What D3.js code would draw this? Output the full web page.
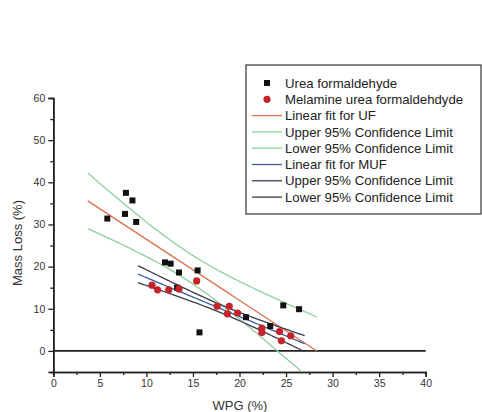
<!DOCTYPE html>
<html>
<head>
<meta charset="utf-8">
<script src="https://cdn.jsdelivr.net/npm/d3@7"></script>
<style>
    body { margin: 0; background: #fff; }
    svg { font-family: "Liberation Sans", Arial, sans-serif; }
</style>
</head>
<body>
<svg id="chart" width="482" height="412"></svg>
<script>
// Urea formaldehyde (UF) samples
var ufWpg = [7.8, 8.5, 7.7, 5.8, 8.9, 12.0, 12.6, 13.5, 15.5, 13.3, 15.7, 20.7, 23.3, 24.7, 26.4];
var ufLoss = [37.5, 35.7, 32.5, 31.4, 30.6, 21.0, 20.7, 18.6, 19.1, 15.0, 4.4, 8.0, 5.9, 10.8, 9.9];

// Melamine urea formaldehyde (MUF) samples
var mufWpg = [10.6, 11.2, 12.4, 13.5, 15.4, 17.6, 18.9, 18.7, 19.8, 22.4, 22.4, 24.3, 25.5, 24.5];
var mufLoss = [15.6, 14.5, 14.5, 14.7, 16.6, 10.6, 10.6, 8.8, 9.0, 5.4, 4.4, 4.6, 3.6, 2.4];

// x extent over which each fit is drawn
var ufFitRange = [3.7, 28.3];
var mufFitRange = [9.1, 27.0];

var xTicks = [0, 5, 10, 15, 20, 25, 30, 35, 40];
var yTicks = [0, 10, 20, 30, 40, 50, 60];

var legendLabels = [
    "Urea formaldehyde",
    "Melamine urea formaldehdyde",
    "Linear fit for UF",
    "Upper 95% Confidence Limit",
    "Lower 95% Confidence Limit",
    "Linear fit for MUF",
    "Upper 95% Confidence Limit",
    "Lower 95% Confidence Limit"
];

var COLORS = {
    ufFit: "#d9714f",
    ufCi: "#8fcf9f",
    mufFit: "#3a5da0",
    mufCi: "#3c3c4c",
    square: "#111",
    dot: "#c4242a",
    axis: "#222"
};

// Student t, two sided 95%, by degrees of freedom
var T975 = {12: 2.179, 13: 2.160};

// least squares fit with confidence band for the mean
function linearFit(xs, ys) {
    var n = xs.length;
    var mx = d3.mean(xs), my = d3.mean(ys);
    var sxx = d3.sum(xs, function (x) { return (x - mx) * (x - mx); });
    var sxy = d3.sum(xs, function (x, i) { return (x - mx) * (ys[i] - my); });
    var b = sxy / sxx;
    var a = my - b * mx;
    var sse = d3.sum(xs, function (x, i) {
        var r = ys[i] - (a + b * x);
        return r * r;
    });
    var s = Math.sqrt(sse / (n - 2));
    var t = T975[n - 2] || 2.2;
    return {
        y: function (x) { return a + b * x; },
        half: function (x) {
            return t * s * Math.sqrt(1 / n + (x - mx) * (x - mx) / sxx);
        }
    };
}

var svg = d3.select("#chart");

var x = d3.scaleLinear().domain([0, 40]).range([53.3, 425.7]);
var y = d3.scaleLinear().domain([-5, 60]).range([372, 98]);

svg.append("defs").append("clipPath").attr("id", "plot")
    .append("rect")
    .attr("x", x(0)).attr("y", y(60))
    .attr("width", x(40) - x(0)).attr("height", y(-5) - y(60));

// axes: majors labelled, minors halfway between
var xAxis = d3.axisBottom(x).tickValues(xTicks).tickSize(5).tickPadding(3);
var xMinor = d3.axisBottom(x).tickValues(d3.range(2.5, 40, 5)).tickSize(3).tickFormat("");
var yAxis = d3.axisLeft(y).tickValues(yTicks).tickSize(5).tickPadding(3);
var yMinor = d3.axisLeft(y).tickValues(d3.range(-5, 60, 10)).tickSize(3).tickFormat("");

function styleAxis(g) {
    g.select(".domain").attr("stroke", COLORS.axis).attr("stroke-width", 1.6);
    g.selectAll(".tick line").attr("stroke", COLORS.axis).attr("stroke-width", 1.3);
    g.selectAll(".tick text").attr("fill", "#333").style("font-size", "10.5px");
}

svg.append("g").attr("transform", "translate(0," + y(-5) + ")").call(xMinor).call(styleAxis);
svg.append("g").attr("transform", "translate(0," + y(-5) + ")").call(xAxis).call(styleAxis);
svg.append("g").attr("transform", "translate(" + x(0) + ",0)").call(yMinor).call(styleAxis);
svg.append("g").attr("transform", "translate(" + x(0) + ",0)").call(yAxis).call(styleAxis);

// zero line
svg.append("line")
    .attr("x1", x(0)).attr("x2", x(40))
    .attr("y1", y(0)).attr("y2", y(0))
    .attr("stroke", COLORS.axis).attr("stroke-width", 1.6);

// axis titles
svg.append("text")
    .attr("x", 240).attr("y", 410)
    .attr("text-anchor", "middle")
    .attr("fill", "#333").style("font-size", "13px")
    .text("WPG (%)");
svg.append("text")
    .attr("transform", "translate(22,243) rotate(-90)")
    .attr("text-anchor", "middle")
    .attr("fill", "#333").style("font-size", "13px")
    .text("Mass Loss (%)");

var plot = svg.append("g").attr("clip-path", "url(#plot)");

function drawFit(xs, ys, range, fitColor, ciColor) {
    var fit = linearFit(xs, ys);
    var samples = d3.range(0, 61).map(function (i) {
        return range[0] + (range[1] - range[0]) * i / 60;
    });
    var line = function (f) {
        return d3.line().x(function (d) { return x(d); }).y(function (d) { return y(f(d)); })(samples);
    };
    plot.append("path").attr("d", line(function (v) { return fit.y(v) + fit.half(v); }))
        .attr("fill", "none").attr("stroke", ciColor).attr("stroke-width", 1.3);
    plot.append("path").attr("d", line(function (v) { return fit.y(v) - fit.half(v); }))
        .attr("fill", "none").attr("stroke", ciColor).attr("stroke-width", 1.3);
    plot.append("path").attr("d", line(fit.y))
        .attr("fill", "none").attr("stroke", fitColor).attr("stroke-width", 1.3);
}

drawFit(ufWpg, ufLoss, ufFitRange, COLORS.ufFit, COLORS.ufCi);
drawFit(mufWpg, mufLoss, mufFitRange, COLORS.mufFit, COLORS.mufCi);

plot.selectAll("rect.uf").data(ufWpg).enter().append("rect")
    .attr("class", "uf")
    .attr("x", function (d) { return x(d) - 3; })
    .attr("y", function (d, i) { return y(ufLoss[i]) - 3; })
    .attr("width", 6).attr("height", 6)
    .attr("fill", COLORS.square);

plot.selectAll("circle.muf").data(mufWpg).enter().append("circle")
    .attr("class", "muf")
    .attr("cx", function (d) { return x(d); })
    .attr("cy", function (d, i) { return y(mufLoss[i]); })
    .attr("r", 3.6)
    .attr("fill", COLORS.dot);

// legend
var legend = svg.append("g").attr("transform", "translate(246,65)");
legend.append("rect")
    .attr("width", 235).attr("height", 149)
    .attr("fill", "#fff").attr("stroke", "#333").attr("stroke-width", 1.2);

var legendStyles = [
    {type: "square", color: COLORS.square},
    {type: "dot", color: COLORS.dot},
    {type: "line", color: COLORS.ufFit},
    {type: "line", color: COLORS.ufCi},
    {type: "line", color: COLORS.ufCi},
    {type: "line", color: COLORS.mufFit},
    {type: "line", color: COLORS.mufCi},
    {type: "line", color: COLORS.mufCi}
];

var rows = legend.selectAll("g.row").data(legendLabels).enter().append("g")
    .attr("class", "row")
    .attr("transform", function (d, i) { return "translate(0," + (18 + i * 16.3) + ")"; });

rows.each(function (d, i) {
    var row = d3.select(this);
    var st = legendStyles[i];
    if (st.type === "square") {
        row.append("rect").attr("x", 18).attr("y", -3).attr("width", 6).attr("height", 6).attr("fill", st.color);
    } else if (st.type === "dot") {
        row.append("circle").attr("cx", 21).attr("r", 3.6).attr("fill", st.color);
    } else {
        row.append("line").attr("x1", 6).attr("x2", 36).attr("stroke", st.color).attr("stroke-width", 1.3);
    }
    row.append("text")
        .attr("x", 39).attr("dy", "0.35em")
        .attr("fill", "#222").style("font-size", "13.2px")
        .text(d);
});
</script>
</body>
</html>
